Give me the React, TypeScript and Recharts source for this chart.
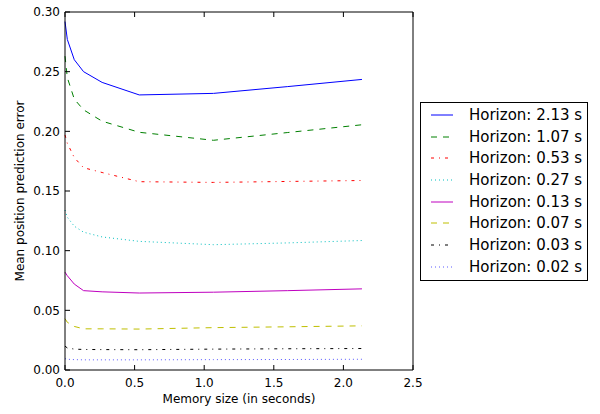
import { LineChart, Line, XAxis, YAxis } from "recharts";

// memory sizes (s) on the x axis
const MEMORY = [0, 0.0167, 0.0667, 0.1333, 0.2667, 0.5333, 1.0667, 1.6, 2.1333];

const H213 = [0.292, 0.277, 0.26, 0.25, 0.241, 0.2305, 0.2318, 0.2375, 0.2435];
const H107 = [0.263, 0.245, 0.227, 0.218, 0.2085, 0.1992, 0.1925, 0.199, 0.2055];
const H053 = [0.197, 0.19, 0.178, 0.1695, 0.1655, 0.1578, 0.1572, 0.158, 0.1588];
const H027 = [0.134, 0.128, 0.1205, 0.1155, 0.1115, 0.1078, 0.105, 0.1065, 0.1085];
const H013 = [0.082, 0.079, 0.072, 0.0665, 0.0655, 0.0645, 0.0652, 0.0665, 0.068];
const H007 = [0.043, 0.04, 0.0365, 0.0345, 0.0345, 0.0343, 0.0355, 0.0362, 0.037];
const H003 = [0.02, 0.0185, 0.0175, 0.0172, 0.0171, 0.017, 0.0175, 0.0178, 0.018];
const H002 = [0.0095, 0.009, 0.0087, 0.0085, 0.0085, 0.0085, 0.0087, 0.0088, 0.009];

const X_TICKS = [0, 0.5, 1, 1.5, 2, 2.5];
const Y_TICKS = [0, 0.05, 0.1, 0.15, 0.2, 0.25, 0.3];

const SERIES = [
  { key: "h213", name: "Horizon: 2.13 s", values: H213, color: "#0000ff", dash: undefined },
  { key: "h107", name: "Horizon: 1.07 s", values: H107, color: "#008000", dash: "6 6" },
  { key: "h053", name: "Horizon: 0.53 s", values: H053, color: "#ff0000", dash: "3 5 1 5" },
  { key: "h027", name: "Horizon: 0.27 s", values: H027, color: "#00bfbf", dash: "1 3" },
  { key: "h013", name: "Horizon: 0.13 s", values: H013, color: "#bf00bf", dash: undefined },
  { key: "h007", name: "Horizon: 0.07 s", values: H007, color: "#bfbf00", dash: "6 6" },
  { key: "h003", name: "Horizon: 0.03 s", values: H003, color: "#000000", dash: "3 5 1 5" },
  { key: "h002", name: "Horizon: 0.02 s", values: H002, color: "#5a5aff", dash: "1 3" },
];

const rows = MEMORY.map((m, i) => {
  const row: Record<string, number> = { m };
  SERIES.forEach((s) => (row[s.key] = s.values[i]));
  return row;
});

const FONT = "DejaVu Sans";
const TICK_LEN = 5;
const X_GAP = 8;
const Y_GAP = 5;

// matplotlib-style ticks: label outside, short mark pointing into the plot
function BottomTick(props: any) {
  const { x, y, payload } = props;
  const axisY = y - X_GAP;
  return (
    <g>
      <line x1={x} x2={x} y1={axisY} y2={axisY - TICK_LEN} stroke="#000" />
      <text x={x} y={y} dy="0.71em" textAnchor="middle" fontSize={12} fontFamily={FONT} fill="#000">
        {Number(payload.value).toFixed(1)}
      </text>
    </g>
  );
}

function LeftTick(props: any) {
  const { x, y, payload } = props;
  const axisX = x + Y_GAP;
  return (
    <g>
      <line x1={axisX} x2={axisX + TICK_LEN} y1={y} y2={y} stroke="#000" />
      <text x={x} y={y} dy="0.36em" textAnchor="end" fontSize={12} fontFamily={FONT} fill="#000">
        {Number(payload.value).toFixed(2)}
      </text>
    </g>
  );
}

function TopTick(props: any) {
  const { x, y } = props;
  return <line x1={x} x2={x} y1={y} y2={y + TICK_LEN} stroke="#000" />;
}

function RightTick(props: any) {
  const { x, y } = props;
  return <line x1={x} x2={x - TICK_LEN} y1={y} y2={y} stroke="#000" />;
}

function LegendBox() {
  return (
    <div
      style={{
        position: "absolute",
        left: 420,
        top: 102,
        width: 166,
        height: 176,
        border: "1px solid #000",
        background: "#fff",
        fontFamily: FONT,
        fontSize: 15,
        paddingTop: 1,
        boxSizing: "content-box",
      }}
    >
      {SERIES.map((s) => (
        <div key={s.key} style={{ height: 21.7, display: "flex", alignItems: "center" }}>
          <svg width={48} height={10} style={{ flex: "none" }}>
            <line x1={10} x2={32} y1={5} y2={5} stroke={s.color} strokeWidth={1} strokeDasharray={s.dash} />
          </svg>
          <span style={{ whiteSpace: "nowrap" }}>{s.name}</span>
        </div>
      ))}
    </div>
  );
}

export default function App() {
  return (
    <div style={{ position: "absolute", left: 0, top: 0, width: 600, height: 414, background: "#fff" }}>
      <LineChart width={600} height={414} data={rows} margin={{ top: 11, right: 186, bottom: 0, left: 0 }}>
        <XAxis
          dataKey="m"
          type="number"
          domain={[0, 2.5]}
          ticks={X_TICKS}
          height={44}
          tickSize={0}
          tickMargin={X_GAP}
          tick={<BottomTick />}
          axisLine={{ stroke: "#000" }}
          tickLine={false}
          label={{ value: "Memory size (in seconds)", position: "insideBottom", offset: 11, fill: "#000", fontSize: 12, fontFamily: FONT }}
        />
        <XAxis
          xAxisId="top"
          orientation="top"
          type="number"
          dataKey="m"
          domain={[0, 2.5]}
          ticks={X_TICKS}
          height={1}
          tickSize={0}
          tickMargin={0}
          tick={<TopTick />}
          axisLine={{ stroke: "#000" }}
          tickLine={false}
        />
        <YAxis
          type="number"
          domain={[0, 0.3]}
          ticks={Y_TICKS}
          width={65}
          tickSize={0}
          tickMargin={Y_GAP}
          tick={<LeftTick />}
          axisLine={{ stroke: "#000" }}
          tickLine={false}
          label={{
            value: "Mean position prediction error",
            angle: -90,
            position: "insideLeft",
            offset: 20,
            style: { textAnchor: "middle" },
            fill: "#000",
            fontSize: 12,
            fontFamily: FONT,
          }}
        />
        <YAxis
          yAxisId="right"
          orientation="right"
          type="number"
          domain={[0, 0.3]}
          ticks={Y_TICKS}
          width={1}
          tickSize={0}
          tickMargin={0}
          tick={<RightTick />}
          axisLine={{ stroke: "#000" }}
          tickLine={false}
        />
        {SERIES.map((s) => (
          <Line
            key={s.key}
            dataKey={s.key}
            name={s.name}
            type="linear"
            stroke={s.color}
            strokeWidth={1}
            strokeDasharray={s.dash}
            dot={false}
            activeDot={false}
            isAnimationActive={false}
          />
        ))}
      </LineChart>
      <LegendBox />
    </div>
  );
}
